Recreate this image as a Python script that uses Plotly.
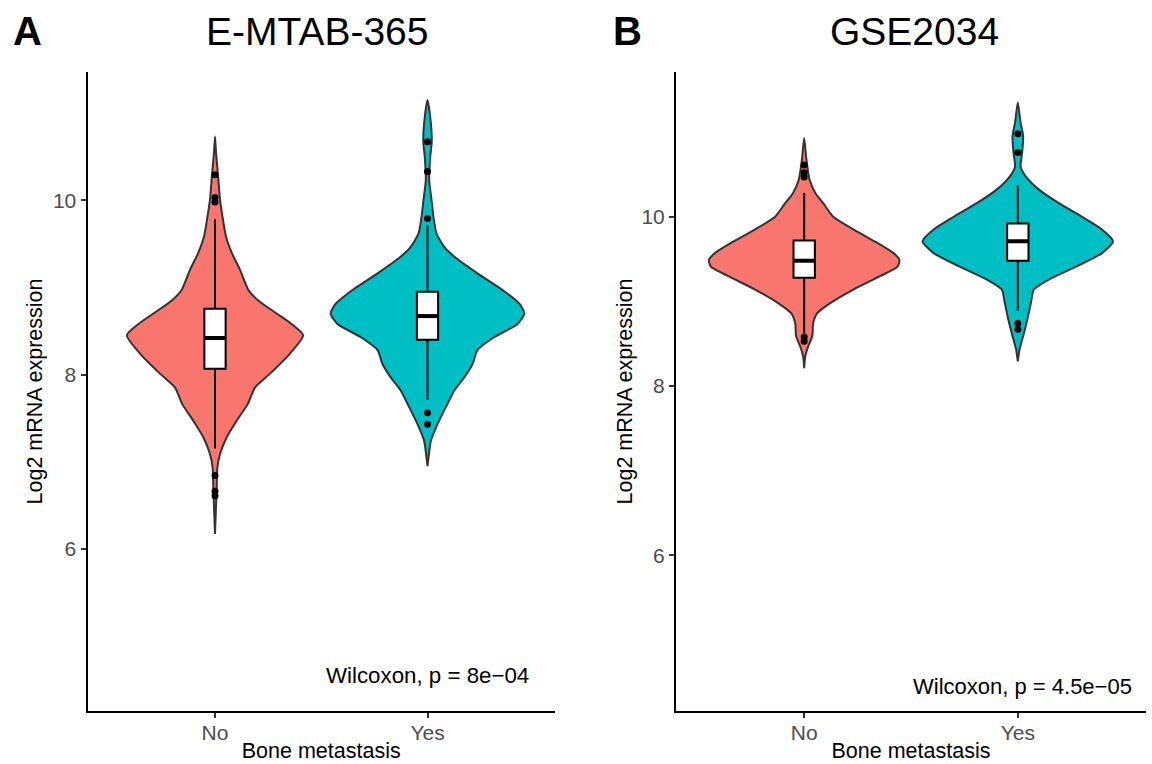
import plotly.graph_objects as go

# ---------------- data ----------------
categories = ["No", "Yes"]
cat_x = [1, 2]
y_ticks = [6, 8, 10]

# Panel A: E-MTAB-365 -- violin outline: value levels and half-widths (category units)
a_no_y = [10.73, 10.54, 10.29, 10.00, 9.77, 9.58, 9.39, 9.20, 8.97, 8.85, 8.70, 8.58,
          8.45, 8.24, 8.01, 7.85, 7.66, 7.47, 7.28, 7.09, 6.93, 6.70, 6.17]
a_no_w = [0.0, 0.005, 0.014, 0.024, 0.038, 0.052, 0.080, 0.118, 0.157, 0.203, 0.290, 0.360,
          0.415, 0.353, 0.259, 0.188, 0.154, 0.102, 0.055, 0.024, 0.011, 0.008, 0.0]
a_yes_y = [11.15, 10.88, 10.67, 10.50, 10.23, 10.00, 9.81, 9.62, 9.46, 9.35, 9.16, 8.97,
           8.81, 8.70, 8.58, 8.43, 8.28, 8.12, 7.97, 7.82, 7.62, 7.43, 7.24, 7.13, 6.95]
a_yes_w = [0.0, 0.016, 0.020, 0.013, 0.008, 0.019, 0.028, 0.042, 0.080, 0.127, 0.235, 0.353,
           0.433, 0.456, 0.424, 0.315, 0.235, 0.212, 0.174, 0.127, 0.085, 0.047, 0.016, 0.009, 0.0]

# Panel B: GSE2034
b_no_y = [10.93, 10.71, 10.59, 10.44, 10.28, 10.16, 10.00, 9.85, 9.69, 9.57, 9.49, 9.41,
          9.30, 9.14, 8.98, 8.86, 8.74, 8.59, 8.47, 8.35, 8.21]
b_no_w = [0.0, 0.009, 0.015, 0.025, 0.052, 0.089, 0.136, 0.230, 0.343, 0.418, 0.446, 0.437,
          0.357, 0.230, 0.122, 0.061, 0.042, 0.038, 0.019, 0.005, 0.0]
b_yes_y = [11.35, 11.11, 10.95, 10.75, 10.59, 10.48, 10.32, 10.16, 10.00, 9.85, 9.71, 9.57,
           9.41, 9.26, 9.14, 8.98, 8.78, 8.59, 8.43, 8.29]
b_yes_w = [0.0, 0.013, 0.025, 0.020, 0.013, 0.036, 0.099, 0.192, 0.300, 0.394, 0.446, 0.394,
           0.272, 0.146, 0.075, 0.061, 0.044, 0.025, 0.008, 0.0]

# Box statistics: [lower whisker, Q1, median, Q3, upper whisker]
a_no_box = [7.15, 8.065, 8.42, 8.755, 9.78]
a_yes_box = [7.71, 8.40, 8.67, 8.95, 9.71]
b_no_box = [8.62, 9.28, 9.48, 9.72, 10.28]
b_yes_box = [8.89, 9.48, 9.71, 9.92, 10.37]

# Outliers
a_no_out = [10.29, 10.03, 9.98, 6.84, 6.66, 6.61]
a_yes_out = [10.67, 10.33, 9.79, 7.56, 7.43]
b_no_out = [10.61, 10.52, 10.47, 8.58, 8.53]
b_yes_out = [10.98, 10.76, 8.74, 8.67]

titles = ["E-MTAB-365", "GSE2034"]
panel_tags = ["A", "B"]
p_labels = ["Wilcoxon, p = 8e\u221204", "Wilcoxon, p = 4.5e\u221205"]
p_label_y = [4.55, 4.45]
p_label_x = [2.0, 2.02]
y_ranges = [[4.14, 11.47], [4.16, 11.71]]
x_range = [0.4, 2.6]

# ---------------- styling ----------------
W, H = 1152, 764
FONT = "Liberation Sans, Arial, Helvetica, sans-serif"
fills = ["#F8766D", "#00BFC4"]
BOX_W = 0.1

fig = go.Figure()


def add_group(base, top, cx, vy, vw, box, outs, color):
    bx, by = base
    tx, ty = top
    xs = [cx + w for w in vw] + [cx - w for w in reversed(vw)]
    ys = list(vy) + list(reversed(vy))
    fig.add_trace(go.Scatter(x=xs, y=ys, xaxis=bx, yaxis=by, mode="lines",
                             fill="toself", fillcolor=color,
                             line=dict(color="#333333", width=2, shape="spline", smoothing=0.6),
                             hoverinfo="skip", showlegend=False))
    # box, median and outliers on an overlaid (identical) subplot so they sit above the violin
    fig.add_trace(go.Box(x=[cx], q1=[box[1]], median=[box[2]], q3=[box[3]],
                         lowerfence=[box[0]], upperfence=[box[4]], orientation="v",
                         xaxis=tx, yaxis=ty, width=BOX_W, whiskerwidth=0,
                         fillcolor="white", line=dict(color="black", width=2),
                         boxpoints=False, showlegend=False))
    fig.add_trace(go.Scatter(x=[cx - BOX_W / 2, cx + BOX_W / 2], y=[box[2], box[2]],
                             xaxis=tx, yaxis=ty, mode="lines",
                             line=dict(color="black", width=4), hoverinfo="skip",
                             showlegend=False))
    fig.add_trace(go.Scatter(x=[cx] * len(outs), y=outs, xaxis=tx, yaxis=ty,
                             mode="markers", marker=dict(color="black", size=7),
                             showlegend=False))


add_group(("x", "y"), ("x3", "y3"), cat_x[0], a_no_y, a_no_w, a_no_box, a_no_out, fills[0])
add_group(("x", "y"), ("x3", "y3"), cat_x[1], a_yes_y, a_yes_w, a_yes_box, a_yes_out, fills[1])
add_group(("x2", "y2"), ("x4", "y4"), cat_x[0], b_no_y, b_no_w, b_no_box, b_no_out, fills[0])
add_group(("x2", "y2"), ("x4", "y4"), cat_x[1], b_yes_y, b_yes_w, b_yes_box, b_yes_out, fills[1])

x_domains = [[87.5 / W, 555 / W], [676 / W, 1146 / W]]
y_domain = [1 - 711 / H, 1 - 72 / H]

common_axis = dict(showline=True, linecolor="black", linewidth=2, ticks="outside",
                   ticklen=5, tickwidth=2, tickcolor="#333333", showgrid=False,
                   zeroline=False, automargin=False,
                   tickfont=dict(family=FONT, size=21, color="#4D4D4D"))

layout = dict(width=W, height=H, paper_bgcolor="white", plot_bgcolor="white",
              margin=dict(l=0, r=0, t=0, b=0), showlegend=False,
              font=dict(family=FONT, color="black"))

y_standoff = [4, 3]
for i in range(2):
    xa = "xaxis" if i == 0 else "xaxis2"
    ya = "yaxis" if i == 0 else "yaxis2"
    xid = "x" if i == 0 else "x2"
    yid = "y" if i == 0 else "y2"
    layout[xa] = dict(common_axis, domain=x_domains[i], range=x_range,
                      tickvals=cat_x, ticktext=categories, anchor=yid,
                      ticklabelstandoff=-3,
                      title=dict(text="Bone metastasis", font=dict(family=FONT, size=21.5),
                                 standoff=0))
    layout[ya] = dict(common_axis, domain=y_domain, range=y_ranges[i], tickvals=y_ticks,
                      anchor=xid,
                      title=dict(text="Log2 mRNA expression", font=dict(family=FONT, size=21.5),
                                 standoff=y_standoff[i]))
    # overlay axes (hidden) for the box layer
    oxa = "xaxis3" if i == 0 else "xaxis4"
    oya = "yaxis3" if i == 0 else "yaxis4"
    oxid = "x3" if i == 0 else "x4"
    oyid = "y3" if i == 0 else "y4"
    layout[oxa] = dict(overlaying=xid, range=x_range, visible=False, anchor=oyid,
                       showgrid=False, zeroline=False)
    layout[oya] = dict(overlaying=yid, range=y_ranges[i], visible=False, anchor=oxid,
                       showgrid=False, zeroline=False)

fig.update_layout(**layout)

title_x = [317 / W, 914 / W]
tag_x = [27 / W, 627 / W]
for i in range(2):
    fig.add_annotation(text=titles[i], xref="paper", yref="paper", x=title_x[i],
                       y=1 - 31 / H, xanchor="center", yanchor="middle", showarrow=False,
                       font=dict(family=FONT, size=39, color="black"))
    fig.add_annotation(text="<b>%s</b>" % panel_tags[i], xref="paper", yref="paper",
                       x=tag_x[i], y=1 - 31 / H, xanchor="center", yanchor="middle",
                       showarrow=False, font=dict(family=FONT, size=40, color="black"))
    fig.add_annotation(text=p_labels[i], xref="x" if i == 0 else "x2",
                       yref="y" if i == 0 else "y2", x=p_label_x[i], y=p_label_y[i],
                       xanchor="center", yanchor="middle", showarrow=False,
                       font=dict(family=FONT, size=22.3 if i == 0 else 22, color="black"))

fig.write_html("out.html", config={"displayModeBar": False},
               post_script="document.body.style.margin='0';")
